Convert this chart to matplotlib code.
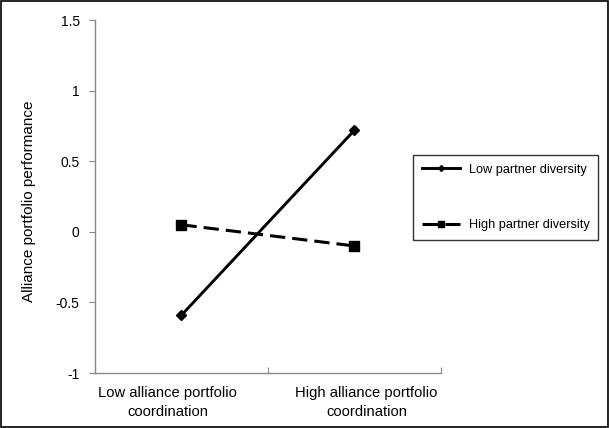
import matplotlib.pyplot as plt
from matplotlib.patches import Rectangle

plt.rcParams['font.family'] = ['Liberation Sans', 'DejaVu Sans']

categories = ['Low alliance portfolio\ncoordination', 'High alliance portfolio\ncoordination']
low_diversity = [-0.59, 0.72]
high_diversity = [0.05, -0.10]
y_ticks = [-1, -0.5, 0, 0.5, 1, 1.5]
y_tick_labels = ['-1', '-0.5', '0', '0.5', '1', '1.5']

fig = plt.figure(figsize=(6.09, 4.28), dpi=100)
ax = fig.add_axes([0.156, 0.1285, 0.568, 0.8245])

x = [0.5, 1.5]
ax.plot(x, low_diversity, color='black', linewidth=2.1, marker='D', markersize=5,
        label='Low partner diversity')
ax.plot(x, high_diversity, color='black', linewidth=2.2, linestyle=(0, (5, 2.3)),
        marker='s', markersize=7, label='High partner diversity')

ax.set_xlim(0, 2)
ax.set_ylim(-1, 1.5)
ax.set_xticks([0, 1, 2])
ax.set_xticklabels([])
# category labels sit a little off the point centres in the original
ax.set_xticks([0.42, 1.57], minor=True)
ax.set_xticklabels(categories, minor=True, fontsize=10.6, linespacing=1.5)
ax.tick_params(axis='x', which='minor', length=0, pad=9)
ax.tick_params(axis='x', which='major', direction='in', length=4, color='#888888')
ax.set_yticks(y_ticks)
ax.set_yticklabels(y_tick_labels, fontsize=10)
ax.tick_params(axis='y', direction='out', length=4, color='#888888', pad=7)

for side in ['top', 'right']:
    ax.spines[side].set_visible(False)
for side in ['left', 'bottom']:
    ax.spines[side].set_color('#888888')
    ax.spines[side].set_linewidth(1)

ax.set_ylabel('Alliance portfolio performance', fontsize=11)
ax.yaxis.set_label_coords(-0.17, 0.487)

leg = fig.legend(loc='upper left', bbox_to_anchor=(413 / 609, 1 - 155 / 428),
                 frameon=True, fancybox=False, edgecolor='black', fontsize=9.2,
                 handlelength=3.0, labelspacing=3.4, borderpad=0.7,
                 handletextpad=0.65, borderaxespad=0)
leg.get_frame().set_linewidth(1)
leg.legend_handles[0].set_markersize(3)
leg.legend_handles[1].set_markersize(5)
leg.legend_handles[1].set_dashes((6, 1.5))

fig.patches.append(Rectangle((0.002, 0.003), 0.996, 0.994, transform=fig.transFigure,
                             fill=False, edgecolor='black', linewidth=1.2))

fig.savefig('out.png', dpi=100)
